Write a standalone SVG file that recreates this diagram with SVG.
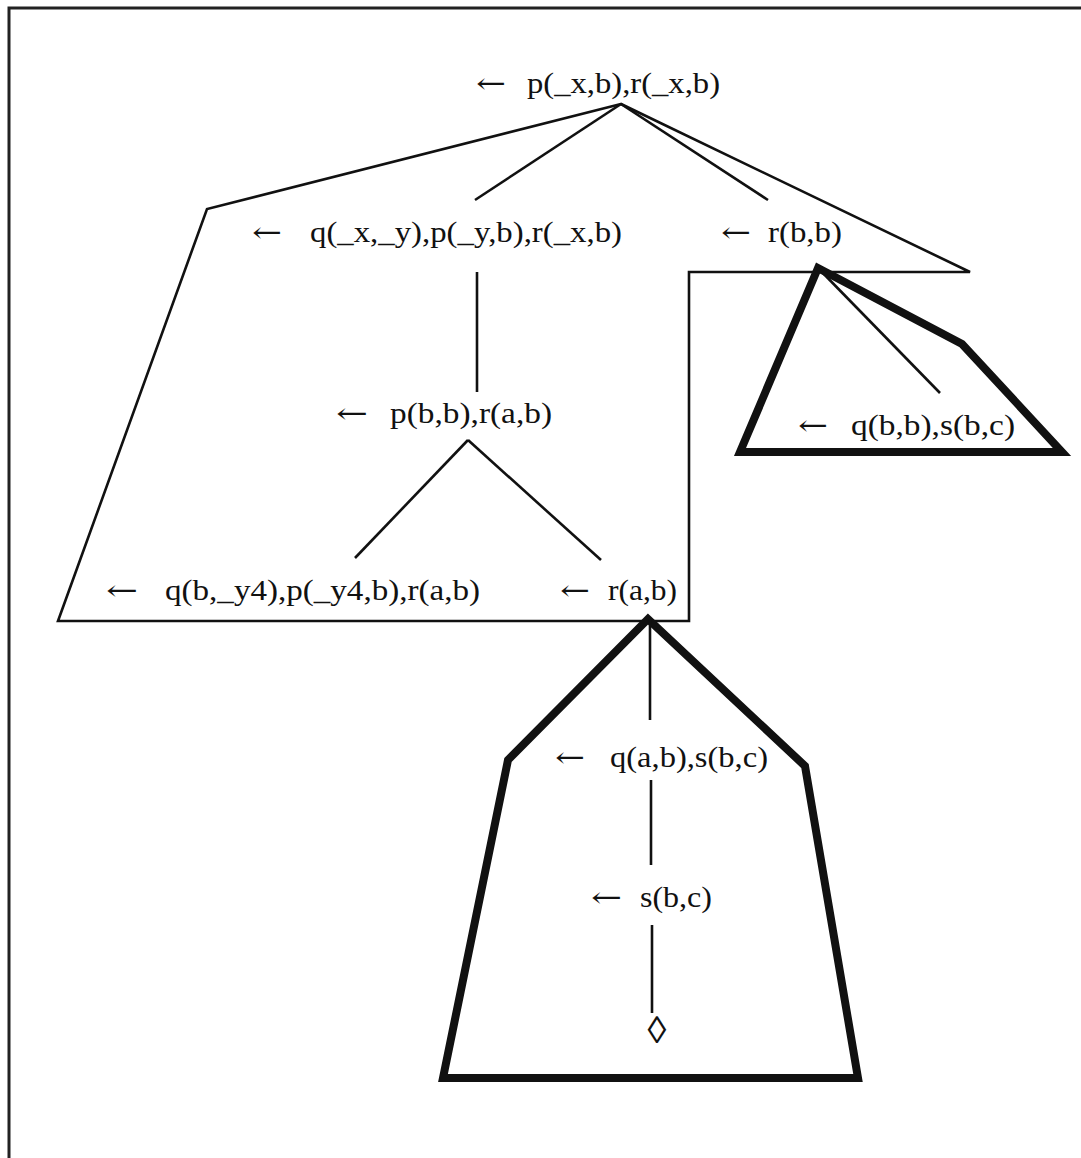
<svg xmlns="http://www.w3.org/2000/svg" width="1081" height="1158" viewBox="0 0 1081 1158">
  <style>
    .lbl { font-family: "Liberation Serif", "Times New Roman", serif; font-size: 30px; fill: #111; }
    .arr { font-family: "DejaVu Serif", serif; font-size: 28px; fill: #111; }
    .thin { fill: none; stroke: #111; stroke-width: 2.6; stroke-linejoin: miter; }
    .thick { fill: none; stroke: #111; stroke-width: 8; stroke-linejoin: miter; }
    .edge { stroke: #111; stroke-width: 2.6; fill: none; }
  </style>
  <rect width="1081" height="1158" fill="#fff"/>
  <!-- page frame -->
  <path d="M9,1158 V8 H1081" fill="none" stroke="#222" stroke-width="3"/>

  <!-- region outlines -->
  <g id="regions">
    <path class="thin" d="M621,104 L207,209 L58,621 L689,621 L689,272 L970,272 Z"/>
    <path class="thick" d="M818,268 L740,452 L1062,452 L962,344 Z"/>
    <path class="thick" d="M648,619 L508,760 L443,1078 L858,1078 L805,766 Z"/>
  </g>

  <!-- tree edges -->
  <g id="edges">
    <line class="edge" x1="621" y1="104" x2="475" y2="200"/>
    <line class="edge" x1="621" y1="104" x2="768" y2="200"/>
    <line class="edge" x1="477" y1="272" x2="477" y2="392"/>
    <line class="edge" x1="468" y1="440" x2="355" y2="558"/>
    <line class="edge" x1="468" y1="440" x2="601" y2="560"/>
    <line class="edge" x1="818" y1="268" x2="940" y2="393"/>
    <line class="edge" x1="650" y1="619" x2="650" y2="720"/>
    <line class="edge" x1="651" y1="780" x2="651" y2="865"/>
    <line class="edge" x1="652" y1="925" x2="652" y2="1013"/>
  </g>

  <!-- goal nodes -->
  <g id="n-root">
    <text class="arr" x="476" y="93" textLength="30" lengthAdjust="spacingAndGlyphs">←</text>
    <text class="lbl" x="527" y="93" textLength="193" lengthAdjust="spacingAndGlyphs">p(_x,b),r(_x,b)</text>
  </g>
  <g id="n-q-xy">
    <text class="arr" x="252" y="242" textLength="30" lengthAdjust="spacingAndGlyphs">←</text>
    <text class="lbl" x="310" y="242" textLength="312" lengthAdjust="spacingAndGlyphs">q(_x,_y),p(_y,b),r(_x,b)</text>
  </g>
  <g id="n-r-bb">
    <text class="arr" x="721" y="242" textLength="30" lengthAdjust="spacingAndGlyphs">←</text>
    <text class="lbl" x="768" y="242" textLength="74" lengthAdjust="spacingAndGlyphs">r(b,b)</text>
  </g>
  <g id="n-p-bb">
    <text class="arr" x="336" y="423" textLength="32" lengthAdjust="spacingAndGlyphs">←</text>
    <text class="lbl" x="390" y="423" textLength="162" lengthAdjust="spacingAndGlyphs">p(b,b),r(a,b)</text>
  </g>
  <g id="n-q-bb">
    <text class="arr" x="798" y="435" textLength="30" lengthAdjust="spacingAndGlyphs">←</text>
    <text class="lbl" x="851" y="435" textLength="164" lengthAdjust="spacingAndGlyphs">q(b,b),s(b,c)</text>
  </g>
  <g id="n-q-by4">
    <text class="arr" x="106" y="600" textLength="32" lengthAdjust="spacingAndGlyphs">←</text>
    <text class="lbl" x="165" y="600" textLength="315" lengthAdjust="spacingAndGlyphs">q(b,_y4),p(_y4,b),r(a,b)</text>
  </g>
  <g id="n-r-ab">
    <text class="arr" x="560" y="600" textLength="30" lengthAdjust="spacingAndGlyphs">←</text>
    <text class="lbl" x="608" y="600" textLength="69" lengthAdjust="spacingAndGlyphs">r(a,b)</text>
  </g>
  <g id="n-q-ab">
    <text class="arr" x="555" y="767" textLength="30" lengthAdjust="spacingAndGlyphs">←</text>
    <text class="lbl" x="610" y="767" textLength="158" lengthAdjust="spacingAndGlyphs">q(a,b),s(b,c)</text>
  </g>
  <g id="n-s-bc">
    <text class="arr" x="591" y="907" textLength="31" lengthAdjust="spacingAndGlyphs">←</text>
    <text class="lbl" x="640" y="907" textLength="72" lengthAdjust="spacingAndGlyphs">s(b,c)</text>
  </g>
  <g id="n-empty">
    <text class="lbl" x="657" y="1043" text-anchor="middle" style="font-size:38px">◊</text>
  </g>
</svg>
